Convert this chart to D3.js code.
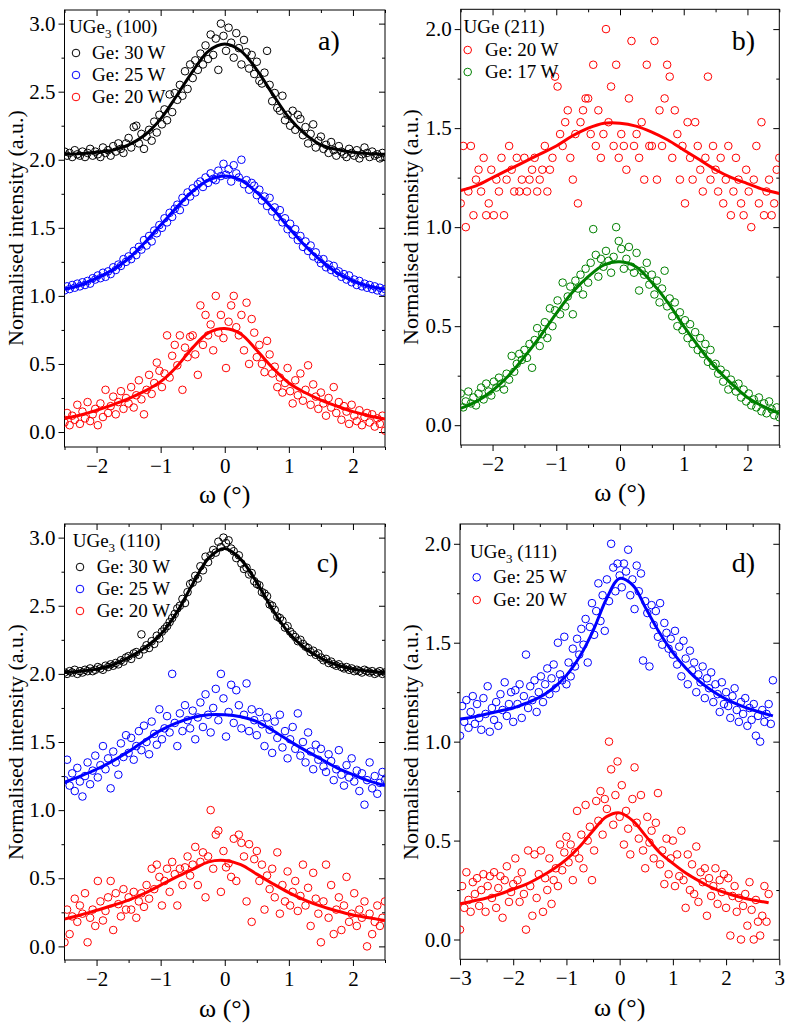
<!DOCTYPE html>
<html>
<head>
<meta charset="utf-8">
<script src="https://cdn.jsdelivr.net/npm/d3@7"></script>
<style>
  body { margin: 0; background: #fff; }
  svg { display: block; }
</style>
</head>
<body>
<svg id="chart" width="797" height="1024"></svg>
<script>
var FONT = "Liberation Serif, Times New Roman, serif";

// omega grid for panels a-c (deg)
var omega = [
  -2.5,-2.46,-2.42,-2.38,-2.34,-2.3,-2.26,-2.22,-2.18,-2.14,-2.1,-2.06,-2.02,-1.98,-1.94,-1.9,-1.86,-1.82,-1.78,-1.74,-1.7,-1.66,-1.62,-1.58,-1.54,
  -1.5,-1.46,-1.42,-1.38,-1.34,-1.3,-1.26,-1.22,-1.18,-1.14,-1.1,-1.06,-1.02,-0.98,-0.94,-0.9,-0.86,-0.82,-0.78,-0.74,-0.7,-0.66,-0.62,-0.58,-0.54,
  -0.5,-0.46,-0.42,-0.38,-0.34,-0.3,-0.26,-0.22,-0.18,-0.14,-0.1,-0.06,-0.02,0.02,0.06,0.1,0.14,0.18,0.22,0.26,0.3,0.34,0.38,0.42,0.46,
  0.5,0.54,0.58,0.62,0.66,0.7,0.74,0.78,0.82,0.86,0.9,0.94,0.98,1.02,1.06,1.1,1.14,1.18,1.22,1.26,1.3,1.34,1.38,1.42,1.46,
  1.5,1.54,1.58,1.62,1.66,1.7,1.74,1.78,1.82,1.86,1.9,1.94,1.98,2.02,2.06,2.1,2.14,2.18,2.22,2.26,2.3,2.34,2.38,2.42,2.46,
  2.5
];

// omega grid for panel d
var omegaD = [
  -3,-2.96,-2.92,-2.88,-2.84,-2.8,-2.76,-2.72,-2.68,-2.64,-2.6,-2.56,-2.52,-2.48,-2.44,-2.4,-2.36,-2.32,-2.28,-2.24,-2.2,-2.16,-2.12,-2.08,-2.04,
  -2,-1.96,-1.92,-1.88,-1.84,-1.8,-1.76,-1.72,-1.68,-1.64,-1.6,-1.56,-1.52,-1.48,-1.44,-1.4,-1.36,-1.32,-1.28,-1.24,-1.2,-1.16,-1.12,-1.08,-1.04,
  -1,-0.96,-0.92,-0.88,-0.84,-0.8,-0.76,-0.72,-0.68,-0.64,-0.6,-0.56,-0.52,-0.48,-0.44,-0.4,-0.36,-0.32,-0.28,-0.24,-0.2,-0.16,-0.12,-0.08,-0.04,
  0,0.04,0.08,0.12,0.16,0.2,0.24,0.28,0.32,0.36,0.4,0.44,0.48,0.52,0.56,0.6,0.64,0.68,0.72,0.76,0.8,0.84,0.88,0.92,0.96,
  1,1.04,1.08,1.12,1.16,1.2,1.24,1.28,1.32,1.36,1.4,1.44,1.48,1.52,1.56,1.6,1.64,1.68,1.72,1.76,1.8,1.84,1.88,1.92,1.96,
  2,2.04,2.08,2.12,2.16,2.2,2.24,2.28,2.32,2.36,2.4,2.44,2.48,2.52,2.56,2.6,2.64,2.68,2.72,2.76,2.8,2.84,2.88
];

// a) UGe3 (100)
var a30 = [
  2.06,2.03,2.05,2.02,2.07,2.04,2.03,2.06,2.02,2.05,2.08,2.03,2.06,2.04,2.02,2.09,2.05,2.07,2.03,2.10,2.06,2.12,2.08,2.05,2.12,
  2.16,2.09,2.24,2.25,2.12,2.19,2.08,2.17,2.22,2.14,2.28,2.20,2.33,2.26,2.37,2.29,2.48,2.35,2.49,2.44,2.55,2.47,2.65,2.52,2.70,
  2.60,2.73,2.66,2.78,2.70,2.84,2.74,2.92,2.77,2.89,2.66,3.00,2.91,2.80,2.97,2.86,2.75,2.93,2.82,2.70,2.88,2.79,2.67,2.77,2.63,
  2.72,2.58,2.56,2.64,2.80,2.55,2.43,2.49,2.38,2.36,2.47,2.29,2.33,2.25,2.36,2.22,2.33,2.30,2.18,2.24,2.12,2.19,2.26,2.09,2.14,
  2.17,2.08,2.11,2.05,2.13,2.07,2.03,2.10,2.06,2.04,2.02,2.08,2.05,2.03,2.07,2.01,2.04,2.09,2.05,2.02,2.06,2.03,2.04,2.01,2.05,
  2.02
];
var a25 = [
  1.04,1.07,1.05,1.08,1.06,1.09,1.07,1.10,1.08,1.11,1.09,1.13,1.12,1.15,1.13,1.17,1.14,1.18,1.16,1.21,1.19,1.23,1.22,1.27,1.25,
  1.29,1.27,1.33,1.30,1.36,1.34,1.41,1.37,1.44,1.40,1.48,1.46,1.52,1.50,1.57,1.54,1.61,1.58,1.64,1.67,1.63,1.72,1.69,1.76,1.73,
  1.79,1.76,1.82,1.84,1.80,1.87,1.83,1.90,1.86,1.85,1.92,1.88,1.97,1.89,1.93,1.84,1.96,1.90,1.87,2.00,1.82,1.85,1.78,1.83,1.81,
  1.74,1.78,1.70,1.73,1.66,1.72,1.62,1.65,1.58,1.63,1.54,1.57,1.49,1.53,1.45,1.49,1.41,1.44,1.36,1.40,1.33,1.37,1.29,1.32,1.27,
  1.24,1.27,1.21,1.23,1.19,1.22,1.17,1.18,1.14,1.16,1.12,1.15,1.10,1.12,1.08,1.11,1.07,1.09,1.06,1.08,1.05,1.07,1.04,1.06,1.03,
  1.05
];
var a20 = [
  0.07,0.14,0.05,0.12,0.09,0.20,0.06,0.15,0.10,0.22,0.08,0.13,0.17,0.05,0.21,0.11,0.31,0.14,0.19,0.26,0.13,0.22,0.30,0.17,0.25,
  0.21,0.33,0.18,0.27,0.38,0.24,0.13,0.31,0.42,0.28,0.36,0.51,0.45,0.33,0.43,0.71,0.40,0.56,0.64,0.49,0.71,0.31,0.62,0.55,0.70,
  0.71,0.57,0.42,0.93,0.64,0.86,0.71,0.79,0.60,1.00,0.73,0.86,0.69,0.47,0.81,0.93,1.00,0.77,0.71,0.86,0.60,0.95,0.50,0.83,0.73,
  0.55,0.64,0.50,0.44,0.67,0.57,0.43,0.48,0.33,0.40,0.29,0.36,0.47,0.30,0.21,0.38,0.27,0.43,0.23,0.31,0.49,0.20,0.35,0.26,0.17,
  0.29,0.21,0.12,0.25,0.18,0.33,0.14,0.22,0.09,0.19,0.15,0.06,0.20,0.12,0.08,0.16,0.05,0.11,0.14,0.07,0.13,0.04,0.10,0.06,0.12,
  0.01
];

// b) UGe (211)
var b20 = [
  1.12,1.41,1.00,1.18,1.41,1.06,1.24,1.29,1.18,1.35,1.06,1.12,1.29,1.06,1.24,1.18,1.35,1.06,1.24,1.41,1.29,1.18,1.35,1.18,1.24,
  1.35,1.18,1.24,1.29,1.35,1.18,1.24,1.29,1.41,1.18,1.29,1.35,1.76,1.71,1.47,1.41,1.53,1.59,1.35,1.24,1.47,1.12,1.53,1.59,1.65,
  1.65,1.47,1.82,1.41,1.59,1.35,1.47,2.00,1.53,1.71,1.41,1.82,1.35,1.47,1.41,1.29,1.65,1.94,1.41,1.47,1.35,1.53,1.24,1.82,1.41,
  1.41,1.94,1.24,1.59,1.41,1.65,1.82,1.76,1.35,1.59,1.47,1.24,1.41,1.12,1.53,1.35,1.24,1.53,1.41,1.29,1.18,1.35,1.76,1.24,1.41,
  1.29,1.18,1.35,1.12,1.24,1.41,1.06,1.18,1.35,1.24,1.12,1.06,1.29,1.18,1.00,1.24,1.41,1.12,1.53,1.06,1.18,1.24,1.06,1.12,1.29,
  1.35
];
var b17 = [
  0.16,0.09,0.12,0.17,0.11,0.14,0.10,0.16,0.19,0.13,0.21,0.17,0.15,0.22,0.19,0.24,0.21,0.18,0.26,0.23,0.35,0.27,0.31,0.36,0.33,
  0.38,0.34,0.41,0.29,0.43,0.49,0.40,0.46,0.52,0.44,0.59,0.50,0.58,0.63,0.56,0.72,0.60,0.65,0.70,0.56,0.73,0.69,0.76,0.66,0.79,
  0.72,0.82,0.99,0.86,0.75,0.84,0.80,0.88,0.83,0.77,0.85,1.00,0.93,0.89,0.79,0.84,0.90,0.80,0.77,0.87,0.68,0.78,0.76,0.82,0.71,
  0.76,0.66,0.73,0.62,0.69,0.78,0.60,0.64,0.55,0.62,0.50,0.57,0.48,0.53,0.44,0.51,0.41,0.47,0.38,0.44,0.36,0.41,0.32,0.38,0.30,
  0.31,0.26,0.28,0.22,0.26,0.18,0.23,0.20,0.17,0.21,0.14,0.18,0.12,0.16,0.10,0.13,0.09,0.14,0.07,0.11,0.06,0.12,0.08,0.05,0.09,
  0.04
];

// c) UGe3 (110)
var c30 = [
  2.01,2.00,2.02,2.01,2.03,2.00,2.02,2.01,2.03,2.02,2.04,2.02,2.03,2.05,2.04,2.03,2.06,2.05,2.07,2.06,2.08,2.07,2.10,2.09,2.12,
  2.13,2.11,2.15,2.16,2.14,2.29,2.18,2.21,2.19,2.24,2.22,2.28,2.26,2.31,2.33,2.35,2.38,2.41,2.44,2.48,2.50,2.55,2.52,2.60,2.66,
  2.67,2.72,2.70,2.79,2.76,2.86,2.82,2.87,2.91,2.89,2.97,2.93,3.00,2.96,2.98,2.92,2.90,2.85,2.87,2.81,2.77,2.78,2.73,2.74,2.68,
  2.66,2.65,2.60,2.59,2.57,2.51,2.50,2.47,2.42,2.41,2.39,2.34,2.35,2.31,2.29,2.27,2.24,2.25,2.22,2.20,2.19,2.16,2.17,2.14,2.15,
  2.12,2.10,2.11,2.08,2.09,2.07,2.06,2.07,2.05,2.04,2.05,2.03,2.04,2.02,2.03,2.02,2.01,2.03,2.02,2.01,2.02,2.00,2.01,2.02,2.00,
  2.01
];
var c25 = [
  1.22,1.37,1.18,1.27,1.14,1.31,1.21,1.10,1.25,1.35,1.19,1.29,1.40,1.24,1.33,1.47,1.30,1.38,1.16,1.43,1.35,1.26,1.49,1.39,1.55,
  1.42,1.53,1.37,1.47,1.58,1.44,1.62,1.50,1.41,1.65,1.56,1.48,1.74,1.52,1.60,1.69,1.57,2.00,1.64,1.47,1.71,1.58,1.77,1.66,1.60,
  1.73,1.52,1.68,1.79,1.61,1.85,1.70,1.57,1.75,1.89,1.66,2.00,1.82,1.54,1.72,1.92,1.64,1.88,1.77,1.60,1.70,1.93,1.58,1.74,1.66,
  1.55,1.72,1.63,1.47,1.68,1.59,1.42,1.65,1.53,1.70,1.46,1.58,1.38,1.52,1.61,1.45,1.71,1.40,1.50,1.35,1.57,1.43,1.30,1.48,1.37,
  1.45,1.32,1.28,1.41,1.36,1.22,1.30,1.44,1.26,1.18,1.33,1.24,1.38,1.21,1.29,1.14,1.27,1.04,1.22,1.35,1.16,1.25,1.12,1.20,1.28,
  1.22
];
var c20 = [
  0.03,0.27,0.09,0.22,0.35,0.18,0.30,0.24,0.39,0.03,0.21,0.27,0.15,0.48,0.33,0.19,0.26,0.36,0.48,0.12,0.39,0.31,0.22,0.42,0.27,
  0.36,0.27,0.40,0.21,0.33,0.39,0.29,0.45,0.35,0.57,0.42,0.60,0.51,0.30,0.48,0.57,0.40,0.62,0.53,0.30,0.57,0.45,0.58,0.66,0.52,
  0.60,0.73,0.45,0.62,0.69,0.36,0.66,1.00,0.57,0.82,0.85,0.40,0.70,0.58,0.61,0.51,0.79,0.48,0.82,0.76,0.66,0.33,0.75,0.18,0.64,
  0.70,0.48,0.60,0.27,0.52,0.42,0.57,0.36,0.69,0.24,0.45,0.33,0.55,0.30,0.40,0.48,0.26,0.37,0.60,0.30,0.43,0.15,0.54,0.35,0.24,
  0.03,0.33,0.60,0.21,0.45,0.09,0.27,0.36,0.12,0.30,0.51,0.18,0.24,0.39,0.15,0.27,0.21,0.33,0.00,0.24,0.09,0.18,0.30,0.15,0.21,
  0.33
];

// d) UGe3 (111)
var d25 = [
  1.03,1.18,1.10,1.21,1.07,1.15,1.23,1.09,1.19,1.12,1.06,1.22,1.14,1.28,1.05,1.17,1.11,1.20,1.08,1.24,1.16,1.30,1.13,1.19,1.25,
  1.10,1.26,1.19,1.29,1.12,1.23,1.44,1.17,1.28,1.21,1.31,1.15,1.25,1.33,1.20,1.29,1.37,1.24,1.32,1.39,1.27,1.50,1.34,1.31,1.53,
  1.29,1.40,1.33,1.47,1.38,1.52,1.44,1.57,1.49,1.62,1.40,1.58,1.70,1.54,1.66,1.80,1.61,1.74,1.56,1.82,1.71,2.00,1.88,1.76,1.90,
  1.84,1.78,1.90,1.86,1.97,1.74,1.82,1.67,1.89,1.76,1.85,1.41,1.71,1.65,1.38,1.69,1.59,1.66,1.53,1.70,1.49,1.60,1.55,1.47,1.52,
  1.44,1.56,1.39,1.48,1.33,1.51,1.42,1.29,1.46,1.36,1.40,1.25,1.34,1.30,1.38,1.22,1.32,1.27,1.35,1.20,1.29,1.24,1.15,1.30,1.19,
  1.25,1.18,1.12,1.23,1.27,1.16,1.10,1.20,1.14,1.22,1.08,1.17,1.11,1.19,1.03,1.13,1.00,1.16,1.10,1.14,1.19,1.09,1.31
];
var d20 = [
  0.05,0.27,0.16,0.34,0.20,0.14,0.29,0.23,0.31,0.17,0.25,0.33,0.14,0.27,0.32,0.21,0.34,0.16,0.26,0.32,0.11,0.30,0.37,0.19,0.24,
  0.28,0.41,0.30,0.19,0.34,0.23,0.05,0.45,0.27,0.12,0.43,0.21,0.33,0.45,0.14,0.31,0.25,0.41,0.18,0.30,0.36,0.27,0.48,0.35,0.44,
  0.52,0.39,0.48,0.30,0.44,0.65,0.41,0.53,0.36,0.68,0.50,0.57,0.30,0.45,0.70,0.60,0.75,0.53,0.71,0.66,1.00,0.86,0.58,0.73,0.90,
  0.62,0.78,0.48,0.65,0.56,0.43,0.71,0.87,0.59,0.51,0.73,0.45,0.36,0.62,0.49,0.55,0.41,0.59,0.74,0.38,0.45,0.28,0.51,0.33,0.41,
  0.50,0.27,0.43,0.32,0.55,0.30,0.16,0.43,0.25,0.38,0.23,0.47,0.19,0.34,0.29,0.36,0.12,0.31,0.22,0.27,0.36,0.18,0.30,0.24,0.33,
  0.16,0.31,0.02,0.22,0.27,0.14,0.21,0.00,0.17,0.23,0.07,0.29,0.15,0.00,0.20,0.09,0.02,0.12,0.27,0.09,0.23
];

// fitted curves, read at 0.25 deg steps
var fitX = [-2.5,-2.25,-2,-1.75,-1.5,-1.25,-1,-0.75,-0.5,-0.25,0,0.25,0.5,0.75,1,1.25,1.5,1.75,2,2.25,2.5];
var fitA30 = [2.04,2.045,2.055,2.07,2.11,2.18,2.3,2.47,2.65,2.8,2.85,2.8,2.66,2.48,2.31,2.19,2.11,2.075,2.055,2.045,2.04];
var fitA25 = [1.05,1.08,1.13,1.19,1.275,1.39,1.52,1.65,1.77,1.85,1.88,1.85,1.76,1.64,1.5,1.37,1.26,1.17,1.11,1.07,1.05];
var fitA20 = [0.1,0.125,0.16,0.2,0.245,0.3,0.37,0.48,0.62,0.73,0.76,0.72,0.6,0.47,0.36,0.29,0.235,0.19,0.15,0.12,0.095];
var fitB20 = [1.185,1.21,1.25,1.29,1.33,1.37,1.41,1.46,1.5,1.525,1.525,1.51,1.48,1.44,1.39,1.34,1.29,1.25,1.22,1.19,1.17];
var fitB17 = [0.085,0.12,0.175,0.25,0.345,0.45,0.565,0.67,0.75,0.81,0.825,0.8,0.72,0.62,0.5,0.39,0.29,0.21,0.14,0.095,0.06];
var fitC30 = [2.01,2.02,2.035,2.065,2.12,2.19,2.29,2.45,2.66,2.85,2.92,2.84,2.67,2.47,2.3,2.19,2.115,2.065,2.035,2.02,2.01];
var fitC25 = [1.205,1.25,1.3,1.36,1.43,1.51,1.585,1.64,1.68,1.7,1.7,1.685,1.65,1.585,1.51,1.44,1.375,1.31,1.26,1.215,1.18];
var fitC20 = [0.2,0.23,0.265,0.3,0.34,0.39,0.45,0.51,0.565,0.62,0.63,0.6,0.53,0.46,0.395,0.34,0.295,0.26,0.23,0.21,0.19];
var fitXD25 = [-3,-2.75,-2.5,-2.25,-2,-1.75,-1.5,-1.25,-1,-0.75,-0.5,-0.25,0,0.25,0.5,0.75,1,1.25,1.5,1.75,2,2.25,2.5,2.75,2.88];
var fitD25 = [1.115,1.125,1.14,1.155,1.17,1.195,1.225,1.27,1.335,1.43,1.56,1.72,1.825,1.79,1.67,1.55,1.45,1.37,1.305,1.255,1.215,1.185,1.16,1.14,1.13];
var fitXD20 = [-3,-2.75,-2.5,-2.25,-2,-1.75,-1.5,-1.25,-1,-0.75,-0.5,-0.25,0,0.25,0.5,0.75,1,1.25,1.5,1.75,2,2.25,2.5,2.75,2.8];
var fitD20 = [0.18,0.195,0.21,0.23,0.255,0.28,0.315,0.355,0.405,0.47,0.55,0.62,0.64,0.6,0.52,0.44,0.385,0.335,0.295,0.26,0.235,0.215,0.2,0.188,0.185];

// ticks
var xTicks = [-2,-1,0,1,2];
var xMinor = [-2.5,-1.5,-0.5,0.5,1.5,2.5];
var xTicksD = [-3,-2,-1,0,1,2,3];
var xMinorD = [-2.5,-1.5,-0.5,0.5,1.5,2.5];
var yTicks3 = [0,0.5,1,1.5,2,2.5,3];
var yMinor3 = [0.25,0.75,1.25,1.75,2.25,2.75];
var yTicks2 = [0,0.5,1,1.5,2];
var yMinor2 = [0.25,0.75,1.25,1.75];

var BLACK = "#000000", BLUE = "#0000ff", RED = "#ff0000", GREEN = "#008000";

var panels = [
  { id: "a", left: 64.5, right: 385, top: 10, bottom: 447, xd: [-2.5, 2.5], yd: [-0.11, 3.1],
    xt: xTicks, xm: xMinor, yt: yTicks3, ym: yMinor3,
    tag: "a)", tagPos: [318, 50], head: ["UGe", "3", " (100)"], headPos: [69, 33],
    legX: 76, legTextX: 92, legY: [59, 81, 103], yTitle: [23, 228], xTitle: 503,
    series: [
      { x: omega, y: a30, fx: fitX, fy: fitA30, color: BLACK, label: "Ge: 30 W" },
      { x: omega, y: a25, fx: fitX, fy: fitA25, color: BLUE, label: "Ge: 25 W" },
      { x: omega, y: a20, fx: fitX, fy: fitA20, color: RED, label: "Ge: 20 W" }
    ] },
  { id: "b", left: 460.7, right: 779.3, top: 9.3, bottom: 445, xd: [-2.5, 2.5], yd: [-0.1, 2.1],
    xt: xTicks, xm: xMinor, yt: yTicks2, ym: yMinor2,
    tag: "b)", tagPos: [731.7, 50], head: ["UGe (211)"], headPos: [463.5, 33],
    legX: 467.7, legTextX: 485, legY: [56, 78], yTitle: [418, 227], xTitle: 501,
    series: [
      { x: omega, y: b20, fx: fitX, fy: fitB20, color: RED, label: "Ge: 20 W" },
      { x: omega, y: b17, fx: fitX, fy: fitB17, color: GREEN, label: "Ge: 17 W" }
    ] },
  { id: "c", left: 64.5, right: 385, top: 524, bottom: 960, xd: [-2.5, 2.5], yd: [-0.1, 3.1],
    xt: xTicks, xm: xMinor, yt: yTicks3, ym: yMinor3,
    tag: "c)", tagPos: [316.7, 571.7], head: ["UGe", "3", " (110)"], headPos: [72.7, 546.7],
    legX: 80, legTextX: 96.7, legY: [573, 595, 617], yTitle: [23, 742], xTitle: 1017,
    series: [
      { x: omega, y: c30, fx: fitX, fy: fitC30, color: BLACK, label: "Ge: 30 W" },
      { x: omega, y: c25, fx: fitX, fy: fitC25, color: BLUE, label: "Ge: 25 W" },
      { x: omega, y: c20, fx: fitX, fy: fitC20, color: RED, label: "Ge: 20 W" }
    ] },
  { id: "d", left: 460, right: 779.3, top: 524, bottom: 959.3, xd: [-3, 3], yd: [-0.1, 2.1],
    xt: xTicksD, xm: xMinorD, yt: yTicks2, ym: yMinor2,
    tag: "d)", tagPos: [731.7, 571.7], head: ["UGe", "3", " (111)"], headPos: [470, 558.3],
    legX: 476.7, legTextX: 493.3, legY: [583.3, 606], yTitle: [418, 742], xTitle: 1016,
    series: [
      { x: omegaD, y: d25, fx: fitXD25, fy: fitD25, color: BLUE, label: "Ge: 25 W" },
      { x: omegaD, y: d20, fx: fitXD20, fy: fitD20, color: RED, label: "Ge: 20 W" }
    ] }
];

var svg = d3.select("#chart");
svg.append("rect").attr("width", 797).attr("height", 1024).attr("fill", "#fff");
var defs = svg.append("defs");

panels.forEach(drawPanel);

// d3.axis puts its own sans-serif 10px font on the group, so override after each call
function addAxis(parent, transform, axis) {
  return parent.append("g")
    .attr("transform", transform)
    .call(axis)
    .attr("font-family", FONT)
    .attr("font-size", 21);
}

function drawPanel(p) {
  var x = d3.scaleLinear().domain(p.xd).range([p.left, p.right]);
  var y = d3.scaleLinear().domain(p.yd).range([p.bottom, p.top]);
  var g = svg.append("g").attr("class", "panel-" + p.id);

  defs.append("clipPath").attr("id", "clip-" + p.id)
    .append("rect")
    .attr("x", p.left).attr("y", p.top)
    .attr("width", p.right - p.left).attr("height", p.bottom - p.top);

  // labelled ticks out on bottom/left, mirrored ticks in on top/right
  var axes = g.append("g");
  var atBottom = "translate(0," + p.bottom + ")", atTop = "translate(0," + p.top + ")";
  var atLeft = "translate(" + p.left + ",0)", atRight = "translate(" + p.right + ",0)";
  addAxis(axes, atBottom, d3.axisBottom(x).tickValues(p.xt).tickSize(6).tickPadding(5).tickFormat(d3.format("d")));
  addAxis(axes, atBottom, d3.axisBottom(x).tickValues(p.xm).tickSize(3).tickFormat(""));
  addAxis(axes, atLeft, d3.axisLeft(y).tickValues(p.yt).tickSize(6).tickPadding(3).tickFormat(d3.format(".1f")));
  addAxis(axes, atLeft, d3.axisLeft(y).tickValues(p.ym).tickSize(3).tickFormat(""));
  addAxis(axes, atTop, d3.axisTop(x).tickValues(p.xt).tickSize(-6).tickFormat(""));
  addAxis(axes, atTop, d3.axisTop(x).tickValues(p.xm).tickSize(-3).tickFormat(""));
  addAxis(axes, atRight, d3.axisRight(y).tickValues(p.yt).tickSize(-6).tickFormat(""));
  addAxis(axes, atRight, d3.axisRight(y).tickValues(p.ym).tickSize(-3).tickFormat(""));
  axes.selectAll(".domain").remove();
  axes.selectAll(".tick line").attr("stroke", "#000").attr("stroke-width", 1);
  axes.selectAll(".tick text").attr("fill", "#000");

  g.append("rect")
    .attr("x", p.left).attr("y", p.top)
    .attr("width", p.right - p.left).attr("height", p.bottom - p.top)
    .attr("fill", "none").attr("stroke", "#000").attr("stroke-width", 1);

  // data points
  var plot = g.append("g").attr("clip-path", "url(#clip-" + p.id + ")");
  p.series.slice().reverse().forEach(function (s) {
    plot.append("g").selectAll("circle")
      .data(d3.zip(s.x, s.y))
      .enter().append("circle")
      .attr("cx", function (d) { return x(d[0]); })
      .attr("cy", function (d) { return y(d[1]); })
      .attr("r", 3.8)
      .attr("fill", "none")
      .attr("stroke", s.color)
      .attr("stroke-width", 1);
  });

  // fits
  var line = d3.line()
    .x(function (d) { return x(d[0]); })
    .y(function (d) { return y(d[1]); })
    .curve(d3.curveCatmullRom.alpha(0.5));
  p.series.forEach(function (s) {
    plot.append("path")
      .datum(d3.zip(s.fx, s.fy))
      .attr("d", line)
      .attr("fill", "none")
      .attr("stroke", s.color)
      .attr("stroke-width", 3);
  });

  // legend
  var head = g.append("text")
    .attr("x", p.headPos[0]).attr("y", p.headPos[1])
    .attr("font-family", FONT).attr("font-size", 19);
  head.append("tspan").text(p.head[0]);
  if (p.head.length > 1) {
    head.append("tspan").attr("font-size", 13).attr("dy", 5).text(p.head[1]);
    head.append("tspan").attr("dy", -5).text(p.head[2]);
  }
  p.series.forEach(function (s, i) {
    g.append("circle")
      .attr("cx", p.legX).attr("cy", p.legY[i] - 6)
      .attr("r", 3.8).attr("fill", "none")
      .attr("stroke", s.color).attr("stroke-width", 1);
    g.append("text")
      .attr("x", p.legTextX).attr("y", p.legY[i])
      .attr("font-family", FONT).attr("font-size", 19)
      .text(s.label);
  });

  // panel tag
  g.append("text")
    .attr("x", p.tagPos[0]).attr("y", p.tagPos[1])
    .attr("font-family", FONT).attr("font-size", 28)
    .text(p.tag);

  // axis titles
  g.append("text")
    .attr("transform", "translate(" + p.yTitle[0] + "," + p.yTitle[1] + ") rotate(-90)")
    .attr("text-anchor", "middle")
    .attr("font-family", FONT).attr("font-size", 22)
    .text("Normalised intensity (a.u.)");
  g.append("text")
    .attr("x", (p.left + p.right) / 2).attr("y", p.xTitle)
    .attr("text-anchor", "middle")
    .attr("font-family", FONT).attr("font-size", 26)
    .text("ω (°)");
}
</script>
</body>
</html>
